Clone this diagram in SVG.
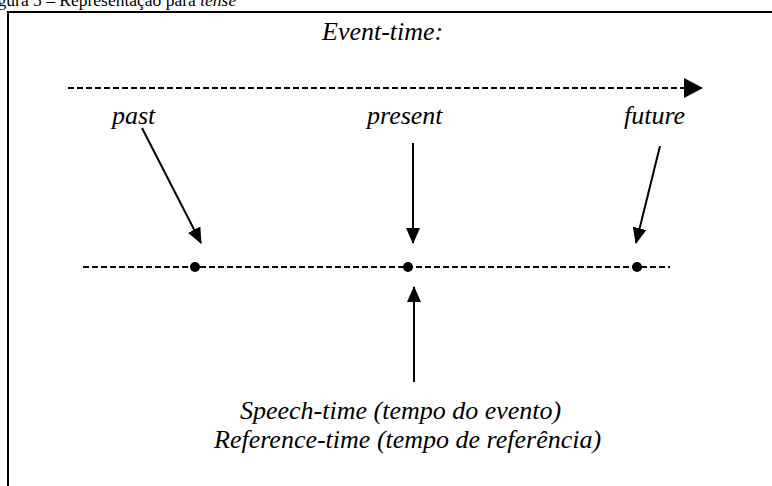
<svg xmlns="http://www.w3.org/2000/svg" width="772" height="486" viewBox="0 0 772 486">
  <style>
    .lbl { font-family: "Liberation Serif", "Times New Roman", serif; font-style: italic; font-size: 26px; fill: #000; }
    .cap { font-family: "Liberation Serif", "Times New Roman", serif; font-size: 17.5px; fill: #000; }
    .dash { stroke: #000; stroke-width: 2; stroke-dasharray: 6 3; fill: none; }
    .arr { stroke: #000; stroke-width: 2; fill: none; marker-end: url(#head); }
    .dot { fill: #000; }
  </style>
  <defs>
    <marker id="head" markerUnits="userSpaceOnUse" markerWidth="16" markerHeight="16" viewBox="0 0 16 16" refX="15" refY="8" orient="auto">
      <path d="M0,1 L16,8 L0,15 Z" fill="#000"/>
    </marker>
  </defs>

  <rect width="772" height="486" fill="#fff"/>

  <!-- caption above the frame -->
  <text class="cap" x="-17" y="6">Figura 5 – Representação para <tspan font-style="italic">tense</tspan></text>

  <!-- frame -->
  <path d="M8,490 V12 H776" fill="none" stroke="#000" stroke-width="2"/>

  <g id="event-time">
    <text class="lbl" x="322" y="40">Event-time:</text>
  </g>
  <g id="past">
    <text class="lbl" x="112" y="124">past</text>
  </g>
  <g id="present">
    <text class="lbl" x="367" y="124">present</text>
  </g>
  <g id="future">
    <text class="lbl" x="624" y="124">future</text>
  </g>
  <g id="timeline-points">
    <circle class="dot" cx="195" cy="267" r="5"/>
    <circle class="dot" cx="408" cy="267" r="5"/>
    <circle class="dot" cx="637" cy="267" r="5"/>
  </g>
  <g id="speech-reference">
    <text class="lbl" x="240" y="419">Speech-time (tempo do evento)</text>
    <text class="lbl" x="214" y="448">Reference-time (tempo de referência)</text>
  </g>

  <g id="connectors">
    <!-- event-time axis -->
    <line class="dash" x1="68" y1="88" x2="684" y2="88"/>
    <path d="M684,78 L703,88 L684,98 Z" fill="#000"/>
    <!-- timeline -->
    <line class="dash" x1="83" y1="267" x2="670" y2="267"/>
    <!-- pointers -->
    <line class="arr" x1="142" y1="128" x2="201" y2="243"/>
    <line class="arr" x1="413" y1="143" x2="413" y2="243"/>
    <line class="arr" x1="660" y1="146" x2="636" y2="243"/>
    <line class="arr" x1="414" y1="382" x2="414" y2="287"/>
  </g>
</svg>
